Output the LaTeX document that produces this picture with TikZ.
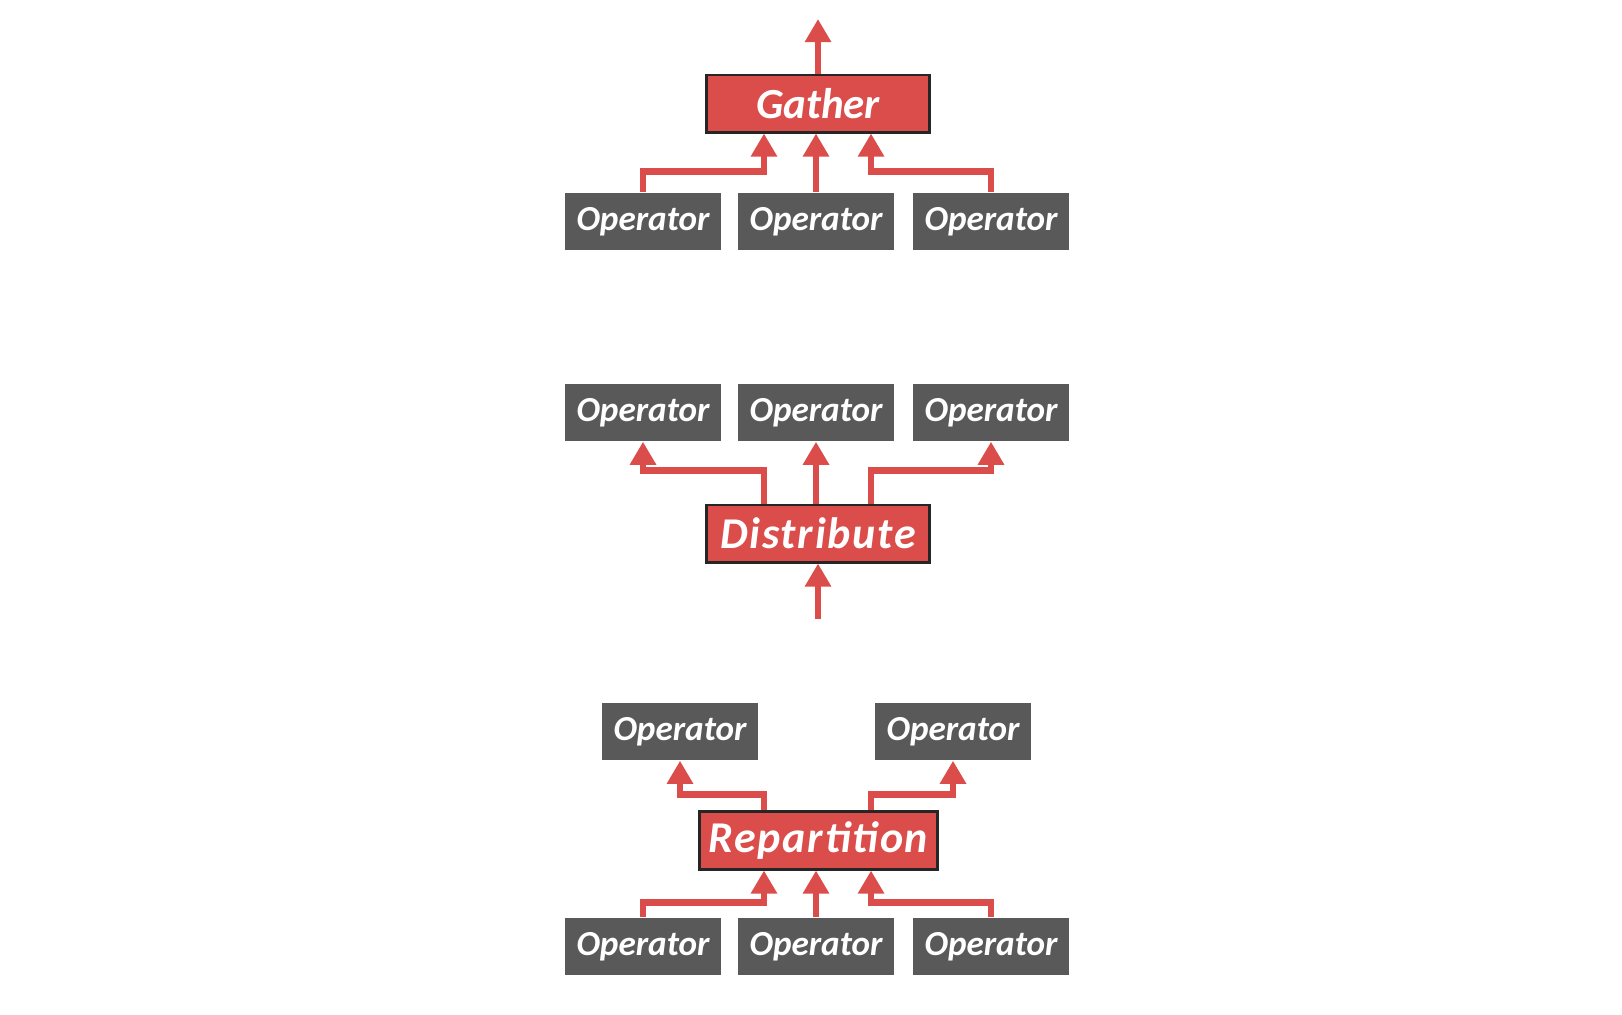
\documentclass[tikz,border=0pt]{standalone}
\usepackage{fontspec}
\setmainfont{Carlito}
\usepackage{tikz}
\usetikzlibrary{arrows.meta}
\definecolor{flowred}{HTML}{DB4D4B}
\definecolor{opgray}{HTML}{595959}
\tikzset{
    opbox/.style={fill=opgray, text=white, minimum width=1.56cm, minimum height=0.57cm, inner sep=0pt,
        font=\bfseries\itshape\fontsize{10}{12}\selectfont},
    redbox/.style={fill=flowred, draw=black!85, line width=0.85pt, text=white, minimum height=0.57cm, inner sep=0pt,
        font=\bfseries\itshape\fontsize{12.5}{15}\selectfont},
    spaced/.style={font=\bfseries\itshape\fontsize{12.5}{15}\selectfont\addfontfeature{LetterSpace=4}},
    flow/.style={draw=flowred, line width=0.068cm, -{Triangle[width=0.25cm,length=0.23cm]}}
}

\begin{document}
\begin{tikzpicture}[x=0.01cm,y=-0.01cm]
    \useasboundingbox (0,0) rectangle (1622,1014);
    % gather
    \node[redbox, minimum width=2.22cm, font=\bfseries\itshape\fontsize{12.2}{15}\selectfont] (gather) at (818,103.5) {Gather};
    \node[opbox] (g1) at (643,221.5) {Operator};
    \node[opbox] (g2) at (816,221.5) {Operator};
    \node[opbox] (g3) at (991,221.5) {Operator};
    \coordinate (gout) at (818,19);
    \draw[flow] (gather.north) -- (gout);
    \draw[flow] (g1.north) -- ++(0,-21) -| ([xshift=-0.54cm]gather.south);
    \draw[flow] (g2.north) -- (g2.north |- gather.south);
    \draw[flow] (g3.north) -- ++(0,-21) -| ([xshift=0.53cm]gather.south);
    % distribute
    \node[redbox, spaced, minimum width=2.22cm] (distribute) at (818,533.5) {Distribute};
    \node[opbox] (d1) at (643,412.5) {Operator};
    \node[opbox] (d2) at (816,412.5) {Operator};
    \node[opbox] (d3) at (991,412.5) {Operator};
    \coordinate (din) at (818,619);
    \draw[flow] (din) -- (distribute.south);
    \draw[flow] ([xshift=-0.54cm]distribute.north) -- ++(0,-33) -| (d1.south);
    \draw[flow] (d2.south |- distribute.north) -- (d2.south);
    \draw[flow] ([xshift=0.53cm]distribute.north) -- ++(0,-33) -| (d3.south);
    % repartition
    \node[redbox, spaced, minimum width=2.37cm, minimum height=0.58cm] (repartition) at (818.5,840) {Repartition};
    \node[opbox] (r1) at (680,731.5) {Operator};
    \node[opbox] (r2) at (953,731.5) {Operator};
    \node[opbox] (r3) at (643,946.5) {Operator};
    \node[opbox] (r4) at (816,946.5) {Operator};
    \node[opbox] (r5) at (991,946.5) {Operator};
    \draw[flow] ([xshift=-0.545cm]repartition.north) -- ++(0,-15) -| (r1.south);
    \draw[flow] ([xshift=0.525cm]repartition.north) -- ++(0,-15) -| (r2.south);
    \draw[flow] (r3.north) -- ++(0,-15) -| ([xshift=-0.545cm]repartition.south);
    \draw[flow] (r4.north) -- (r4.north |- repartition.south);
    \draw[flow] (r5.north) -- ++(0,-15) -| ([xshift=0.525cm]repartition.south);
\end{tikzpicture}
\end{document}
